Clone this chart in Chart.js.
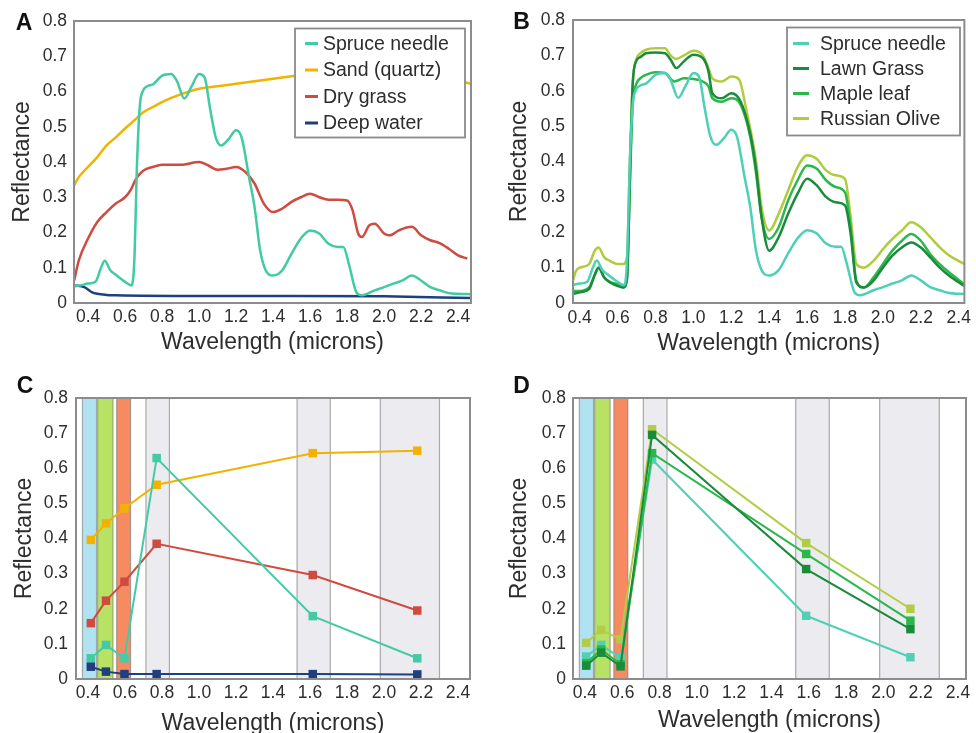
<!DOCTYPE html>
<html>
<head>
<meta charset="utf-8">
<script src="https://cdn.jsdelivr.net/npm/chart.js@4.4.1/dist/chart.umd.min.js"></script>
<style>
html, body { margin: 0; padding: 0; background: #fff; overflow: hidden; }
canvas { position: absolute; }
</style>
</head>
<body>
<canvas id="chartA" width="488" height="366" style="left:0;top:0"></canvas>
<canvas id="chartB" width="488" height="366" style="left:488px;top:0"></canvas>
<canvas id="chartC" width="488" height="380" style="left:0;top:367px"></canvas>
<canvas id="chartD" width="488" height="380" style="left:488px;top:367px"></canvas>
<script>
// axis tick labels
const xTicks = [0.4, 0.6, 0.8, 1.0, 1.2, 1.4, 1.6, 1.8, 2.0, 2.2, 2.4];
const yTicks = [0, 0.1, 0.2, 0.3, 0.4, 0.5, 0.6, 0.7, 0.8];

// --- panel A / B : full spectra (wavelength in microns, reflectance) ---
const sprX = [0.325, 0.36, 0.40, 0.44, 0.47, 0.49, 0.52, 0.55, 0.60, 0.635, 0.65, 0.665, 0.68, 0.695, 0.72, 0.75, 0.80, 0.85, 0.88, 0.92, 0.96, 1.00, 1.03, 1.06, 1.09, 1.12, 1.16, 1.20, 1.23, 1.27, 1.30, 1.33, 1.36, 1.40, 1.45, 1.50, 1.55, 1.60, 1.65, 1.70, 1.75, 1.78, 1.81, 1.85, 1.88, 1.95, 2.00, 2.05, 2.10, 2.15, 2.20, 2.25, 2.30, 2.35, 2.40, 2.47];
const sprY = [0.047, 0.05, 0.055, 0.06, 0.10, 0.12, 0.093, 0.08, 0.06, 0.05, 0.12, 0.40, 0.56, 0.60, 0.615, 0.62, 0.645, 0.65, 0.63, 0.58, 0.615, 0.65, 0.64, 0.55, 0.47, 0.447, 0.465, 0.49, 0.47, 0.357, 0.272, 0.15, 0.093, 0.078, 0.093, 0.14, 0.183, 0.206, 0.197, 0.168, 0.159, 0.159, 0.11, 0.031, 0.022, 0.036, 0.045, 0.055, 0.064, 0.078, 0.064, 0.045, 0.036, 0.028, 0.026, 0.025];

const sandX = [0.325, 0.35, 0.40, 0.45, 0.50, 0.55, 0.60, 0.65, 0.70, 0.75, 0.80, 0.85, 0.90, 1.00, 1.10, 1.20, 1.30, 1.40, 1.50, 1.60, 1.80, 2.00, 2.20, 2.35, 2.47];
const sandY = [0.334, 0.357, 0.386, 0.414, 0.447, 0.47, 0.495, 0.518, 0.542, 0.556, 0.57, 0.582, 0.592, 0.608, 0.615, 0.622, 0.629, 0.636, 0.643, 0.65, 0.657, 0.66, 0.652, 0.636, 0.622];

const dryX = [0.325, 0.35, 0.40, 0.45, 0.50, 0.55, 0.60, 0.63, 0.66, 0.70, 0.75, 0.80, 0.90, 1.00, 1.05, 1.10, 1.15, 1.20, 1.25, 1.30, 1.35, 1.40, 1.45, 1.50, 1.55, 1.60, 1.65, 1.70, 1.75, 1.80, 1.83, 1.86, 1.88, 1.92, 1.95, 2.00, 2.03, 2.08, 2.15, 2.20, 2.25, 2.30, 2.35, 2.40, 2.45];
const dryY = [0.064, 0.121, 0.183, 0.23, 0.258, 0.282, 0.30, 0.32, 0.353, 0.376, 0.386, 0.392, 0.392, 0.40, 0.39, 0.378, 0.381, 0.386, 0.372, 0.339, 0.282, 0.258, 0.268, 0.287, 0.30, 0.31, 0.30, 0.293, 0.293, 0.291, 0.263, 0.197, 0.187, 0.22, 0.225, 0.197, 0.192, 0.206, 0.216, 0.192, 0.178, 0.17, 0.154, 0.135, 0.126];

const waterX = [0.325, 0.38, 0.42, 0.45, 0.50, 0.55, 1.00, 1.50, 2.00, 2.47];
const waterY = [0.05, 0.045, 0.031, 0.026, 0.023, 0.022, 0.02, 0.02, 0.019, 0.014];

const lawnX = [0.36, 0.40, 0.45, 0.48, 0.50, 0.53, 0.56, 0.60, 0.63, 0.65, 0.665, 0.68, 0.70, 0.72, 0.75, 0.80, 0.85, 0.88, 0.91, 0.95, 1.00, 1.05, 1.08, 1.10, 1.15, 1.20, 1.25, 1.30, 1.33, 1.36, 1.40, 1.45, 1.50, 1.55, 1.60, 1.65, 1.70, 1.75, 1.80, 1.83, 1.86, 1.90, 1.95, 2.00, 2.05, 2.10, 2.15, 2.20, 2.25, 2.30, 2.35, 2.43];
const lawnY = [0.025, 0.03, 0.039, 0.08, 0.10, 0.072, 0.058, 0.048, 0.044, 0.07, 0.35, 0.62, 0.685, 0.695, 0.706, 0.708, 0.706, 0.688, 0.664, 0.683, 0.702, 0.692, 0.654, 0.593, 0.579, 0.593, 0.569, 0.479, 0.384, 0.242, 0.148, 0.186, 0.252, 0.309, 0.351, 0.333, 0.30, 0.285, 0.276, 0.195, 0.058, 0.044, 0.063, 0.10, 0.134, 0.157, 0.171, 0.157, 0.129, 0.10, 0.077, 0.048];

const mapleX = [0.36, 0.40, 0.45, 0.48, 0.50, 0.53, 0.56, 0.60, 0.63, 0.65, 0.665, 0.68, 0.70, 0.72, 0.75, 0.80, 0.85, 0.90, 0.95, 1.00, 1.05, 1.08, 1.10, 1.15, 1.20, 1.25, 1.30, 1.33, 1.36, 1.40, 1.45, 1.50, 1.55, 1.60, 1.65, 1.70, 1.75, 1.80, 1.83, 1.86, 1.90, 1.95, 2.00, 2.05, 2.10, 2.15, 2.20, 2.25, 2.30, 2.35, 2.43];
const mapleY = [0.034, 0.034, 0.044, 0.08, 0.10, 0.072, 0.06, 0.053, 0.044, 0.07, 0.33, 0.56, 0.62, 0.635, 0.645, 0.652, 0.65, 0.626, 0.635, 0.633, 0.626, 0.612, 0.579, 0.569, 0.579, 0.56, 0.47, 0.37, 0.242, 0.181, 0.214, 0.29, 0.347, 0.389, 0.38, 0.347, 0.328, 0.313, 0.214, 0.063, 0.044, 0.072, 0.11, 0.148, 0.176, 0.195, 0.176, 0.138, 0.11, 0.086, 0.053];

const oliveX = [0.36, 0.38, 0.40, 0.45, 0.48, 0.50, 0.53, 0.56, 0.60, 0.63, 0.65, 0.665, 0.68, 0.70, 0.72, 0.75, 0.80, 0.85, 0.88, 0.91, 0.95, 1.00, 1.05, 1.08, 1.10, 1.15, 1.20, 1.24, 1.28, 1.33, 1.36, 1.40, 1.45, 1.50, 1.55, 1.60, 1.65, 1.70, 1.75, 1.80, 1.83, 1.86, 1.90, 1.95, 2.00, 2.05, 2.10, 2.15, 2.20, 2.25, 2.30, 2.35, 2.43];
const oliveY = [0.053, 0.09, 0.10, 0.11, 0.148, 0.157, 0.129, 0.119, 0.11, 0.11, 0.13, 0.40, 0.62, 0.69, 0.706, 0.716, 0.72, 0.72, 0.70, 0.69, 0.70, 0.713, 0.70, 0.664, 0.635, 0.626, 0.64, 0.633, 0.545, 0.403, 0.27, 0.205, 0.252, 0.318, 0.384, 0.418, 0.408, 0.375, 0.361, 0.351, 0.242, 0.11, 0.10, 0.119, 0.152, 0.181, 0.205, 0.228, 0.214, 0.186, 0.157, 0.134, 0.11];

// --- panel C / D : band-averaged values ---
const cX = [0.415, 0.497, 0.597, 0.771, 1.615, 2.18];
const cSand = [0.396, 0.443, 0.486, 0.553, 0.643, 0.65];
const cDry = [0.159, 0.223, 0.277, 0.385, 0.296, 0.195];
const cSpruce = [0.059, 0.097, 0.059, 0.629, 0.179, 0.059];
const cWater = [0.035, 0.021, 0.014, 0.014, 0.014, 0.013];

const dX = [0.407, 0.487, 0.591, 0.76, 1.586, 2.145];
const dSpruce = [0.064, 0.097, 0.06, 0.625, 0.18, 0.062];
const dLawn = [0.038, 0.075, 0.036, 0.695, 0.313, 0.142];
const dMaple = [0.045, 0.084, 0.042, 0.643, 0.356, 0.166];
const dOlive = [0.103, 0.14, 0.113, 0.711, 0.387, 0.2];

// sensor bands (microns)
const bandLo = [0.37, 0.452, 0.555, 0.713, 1.53, 1.98];
const bandHi = [0.446, 0.535, 0.63, 0.84, 1.71, 2.30];
const bandColors = ['#b1e2f1', '#b8e264', '#f68b62', '#ececf0', '#ececf0', '#ececf0'];

const FONT = '"Liberation Sans", Arial, Helvetica, sans-serif';
const TEXT = '#2d2d2d';

const pts = (xs, ys) => xs.map((x, i) => ({ x: x, y: ys[i] }));

const line = (label, xs, ys, color, w) => ({
  label: label,
  data: pts(xs, ys),
  borderColor: color,
  backgroundColor: color,
  borderWidth: w || 2.5,
  pointRadius: 0,
  cubicInterpolationMode: 'monotone',
  fill: false
});

const marked = (label, xs, ys, color) => ({
  label: label,
  data: pts(xs, ys),
  borderColor: color,
  backgroundColor: color,
  borderWidth: 2,
  pointStyle: 'rect',
  pointRadius: 6,
  pointBorderWidth: 0,
  tension: 0,
  fill: false
});

// frame, bands, legend box and panel letter
const panelPlugin = {
  id: 'panel',
  beforeDatasetsDraw(chart, args, o) {
    if (!o.bands) return;
    const { ctx, chartArea: a, scales: { x } } = chart;
    ctx.save();
    bandLo.forEach((lo, i) => {
      const x0 = x.getPixelForValue(lo);
      const x1 = x.getPixelForValue(bandHi[i]);
      ctx.fillStyle = bandColors[i];
      ctx.fillRect(x0, a.top, x1 - x0, a.bottom - a.top);
      ctx.strokeStyle = 'rgba(120,120,120,0.6)';
      ctx.lineWidth = 1.2;
      ctx.beginPath();
      ctx.moveTo(x0, a.top); ctx.lineTo(x0, a.bottom);
      ctx.moveTo(x1, a.top); ctx.lineTo(x1, a.bottom);
      ctx.stroke();
    });
    ctx.restore();
  },
  afterDatasetsDraw(chart, args, o) {
    const { ctx, chartArea: a } = chart;
    ctx.save();
    ctx.strokeStyle = '#8c8c8c';
    ctx.lineWidth = 2;
    ctx.strokeRect(a.left, a.top, a.right - a.left, a.bottom - a.top);

    const L = o.legend;
    if (L) {
      ctx.fillStyle = '#fff';
      ctx.fillRect(L.x, L.y, L.w, L.h);
      ctx.strokeStyle = '#8a8a8a';
      ctx.lineWidth = 1.8;
      ctx.strokeRect(L.x, L.y, L.w, L.h);
      ctx.font = '19.5px ' + FONT;
      ctx.textBaseline = 'middle';
      chart.data.datasets.forEach((ds, i) => {
        const y = L.row0 + i * L.gap;
        ctx.strokeStyle = ds.borderColor;
        ctx.lineWidth = 3;
        ctx.beginPath();
        ctx.moveTo(L.s0, y); ctx.lineTo(L.s1, y);
        ctx.stroke();
        ctx.fillStyle = TEXT;
        ctx.fillText(ds.label, L.tx, y + 1);
      });
    }
    if (o.letter) {
      ctx.fillStyle = '#111';
      ctx.font = 'bold 23px ' + FONT;
      ctx.textAlign = 'center';
      ctx.textBaseline = 'middle';
      ctx.fillText(o.letter.text, o.letter.x, o.letter.y);
    }
    ctx.restore();
  }
};

function makePanel(id, p) {
  return new Chart(document.getElementById(id), {
    type: 'line',
    data: { datasets: p.datasets },
    plugins: [panelPlugin],
    options: {
      responsive: false,
      animation: false,
      devicePixelRatio: 1,
      layout: { padding: { top: p.top, right: p.right, left: 0, bottom: 0 } },
      scales: {
        x: {
          type: 'linear',
          min: p.xMin,
          max: p.xMax,
          afterBuildTicks: s => { s.ticks = xTicks.map(v => ({ value: v })); },
          afterFit: s => { s.height = p.xH; },
          grid: { display: false, drawTicks: false },
          border: { display: false },
          ticks: {
            autoSkip: false, maxRotation: 0, padding: p.xTickPad,
            color: TEXT, font: { family: FONT, size: 17.5 },
            callback: v => v.toFixed(1)
          },
          title: {
            display: true, text: 'Wavelength (microns)', color: TEXT,
            font: { family: FONT, size: 23 }, padding: { top: 0, bottom: p.xTitlePad }
          }
        },
        y: {
          min: 0,
          max: 0.8,
          afterBuildTicks: s => { s.ticks = yTicks.map(v => ({ value: v })); },
          afterFit: s => { s.width = p.yW; },
          grid: { display: false, drawTicks: false },
          border: { display: false },
          ticks: {
            padding: p.yTickPad, color: TEXT, font: { family: FONT, size: 17.5 },
            callback: v => (v === 0 ? '0' : v.toFixed(1))
          },
          title: {
            display: true, text: 'Reflectance', color: TEXT,
            font: { family: FONT, size: 23 }, padding: { top: p.yTitlePad, bottom: 0 }
          }
        }
      },
      plugins: {
        legend: { display: false },
        tooltip: { enabled: false },
        panel: { bands: p.bands, legend: p.legend, letter: p.letter }
      }
    }
  });
}

makePanel('chartA', {
  xMin: 0.324, xMax: 2.47, top: 21, right: 17, xH: 63, yW: 74,
  xTickPad: 4, yTickPad: 7, xTitlePad: 10, yTitlePad: 9,
  datasets: [
    line('Spruce needle', sprX, sprY, '#3fcba3'),
    line('Sand (quartz)', sandX, sandY, '#f2b300'),
    line('Dry grass', dryX, dryY, '#cf4b40'),
    line('Deep water', waterX, waterY, '#1f3f7d')
  ],
  legend: { x: 295, y: 28.5, w: 170, h: 109, row0: 43.5, gap: 26.5, s0: 305, s1: 318, tx: 323 },
  letter: { text: 'A', x: 24, y: 24 }
});

makePanel('chartB', {
  xMin: 0.365, xMax: 2.43, top: 20, right: 9, xH: 63, yW: 85,
  xTickPad: 5, yTickPad: 8, xTitlePad: 9, yTitlePad: 18,
  datasets: [
    line('Spruce needle', sprX, sprY, '#4fd0b6'),
    line('Lawn Grass', lawnX, lawnY, '#1a8a3b'),
    line('Maple leaf', mapleX, mapleY, '#2bb84a'),
    line('Russian Olive', oliveX, oliveY, '#afcb3e')
  ],
  legend: { x: 299, y: 27.5, w: 173, h: 108, row0: 43.5, gap: 25, s0: 305, s1: 321, tx: 332 },
  letter: { text: 'B', x: 33.5, y: 22.5 }
});

makePanel('chartC', {
  xMin: 0.335, xMax: 2.465, top: 31, right: 18, xH: 68, yW: 76,
  xTickPad: 4, yTickPad: 8, xTitlePad: 10, yTitlePad: 11,
  bands: true,
  datasets: [
    marked('Deep water', cX, cWater, '#1f3f7d'),
    marked('Spruce needle', cX, cSpruce, '#45caa6'),
    marked('Sand (quartz)', cX, cSand, '#f2b300'),
    marked('Dry grass', cX, cDry, '#cf4b40')
  ],
  letter: { text: 'C', x: 25, y: 20 }
});

makePanel('chartD', {
  xMin: 0.336, xMax: 2.443, top: 31, right: 10, xH: 68, yW: 85,
  xTickPad: 4, yTickPad: 7, xTitlePad: 13, yTitlePad: 18,
  bands: true,
  datasets: [
    marked('Lawn Grass', dX, dLawn, '#1a8a3b'),
    marked('Maple leaf', dX, dMaple, '#2bb84a'),
    marked('Spruce needle', dX, dSpruce, '#52d0b6'),
    marked('Russian Olive', dX, dOlive, '#b2cd45')
  ],
  letter: { text: 'D', x: 33.5, y: 20 }
});
</script>
</body>
</html>
